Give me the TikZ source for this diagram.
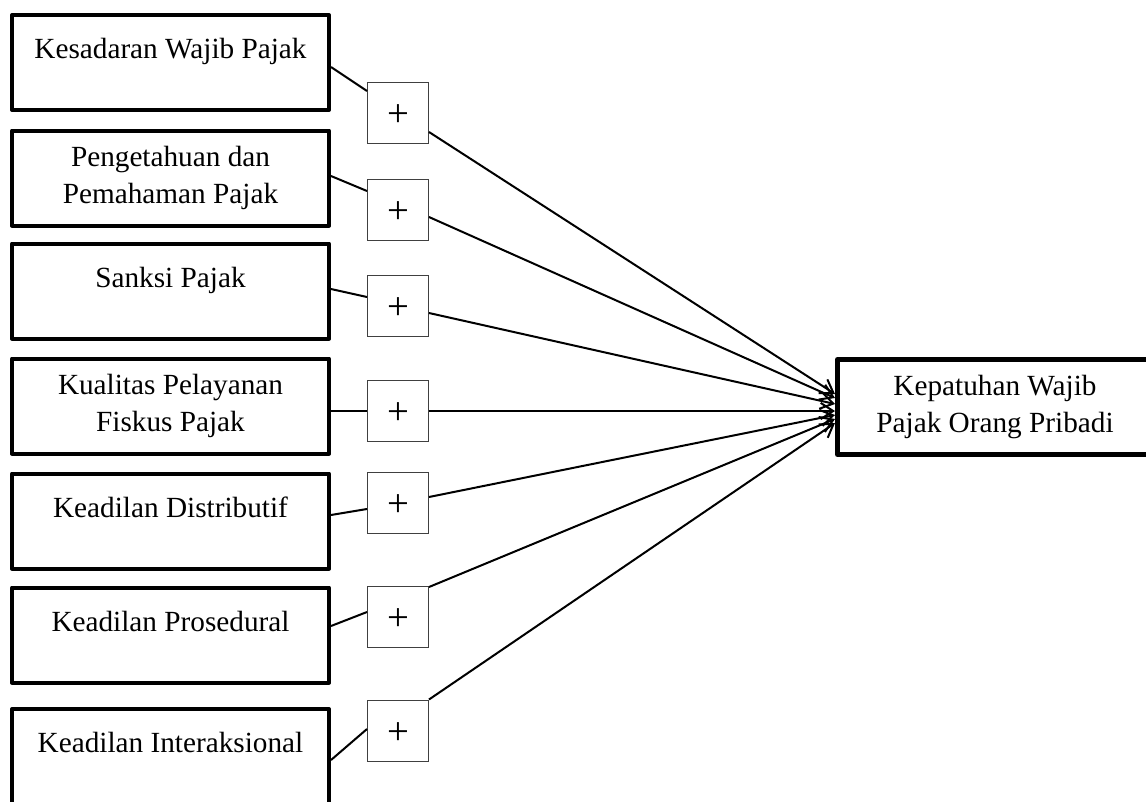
\documentclass[tikz,border=0pt]{standalone}
\usepackage{fontspec}
\setmainfont{Liberation Serif}
\usetikzlibrary{arrows.meta,calc}

\begin{document}
\begin{tikzpicture}[
  x=0.4pt, y=-0.4pt,
  font=\fontsize{11.7}{15}\selectfont,
  var/.style={draw, line width=1.6pt, line join=round, align=center,
    minimum width=126.8pt, minimum height=38pt, inner sep=0pt},
  dep/.style={var, line width=2pt, minimum width=126pt},
  signbox/.style={draw=black!75, line width=0.4pt, fill=white,
    minimum size=24.4pt, inner sep=0pt, font=\fontsize{15.5}{18}\selectfont,
    text height=10.8pt, text depth=0pt},
  link/.style={line width=0.8pt},
  arr/.style={link, -{Straight Barb[length=5pt, width=6.5pt]}}
]
\useasboundingbox (0,0) rectangle (1146,801);
\clip (0,0) rectangle (1146,801);

% independent variables
\node[var] (kesadaran) at (170.5,62.5) {Kesadaran Wajib Pajak\\[-4pt]\mbox{}};
\node[var] (pengetahuan) at (170.5,178) {Pengetahuan dan\\Pemahaman Pajak};
\node[var] (sanksi) at (170.5,291) {Sanksi Pajak\\[-4pt]\mbox{}};
\node[var] (kualitas) at (170.5,406) {Kualitas Pelayanan\\Fiskus Pajak};
\node[var] (distributif) at (170.5,521) {Keadilan Distributif\\[-4pt]\mbox{}};
\node[var] (prosedural) at (170.5,635) {Keadilan Prosedural\\[-4pt]\mbox{}};
\node[var] (interaksional) at (170.5,756.5) {Keadilan Interaksional\\[-4pt]\mbox{}};

% dependent variable
\node[dep] (kepatuhan) at (995,407) {Kepatuhan Wajib\\Pajak Orang Pribadi};

% signs
\node[signbox] (s1) at (398,113) {+};
\node[signbox] (s2) at (398,210) {+};
\node[signbox] (s3) at (398,306) {+};
\node[signbox] (s4) at (398,410.5) {+};
\node[signbox] (s5) at (398,503) {+};
\node[signbox] (s6) at (398,617) {+};
\node[signbox] (s7) at (398,730.5) {+};

\draw[link] ($(kesadaran.east)+(0,4.5)$) -- ($(s1.west)+(0,-22)$);
\draw[link] ($(pengetahuan.east)+(0,-2)$) -- ($(s2.west)+(0,-19)$);
\draw[link] ($(sanksi.east)+(0,-2)$) -- ($(s3.west)+(0,-9)$);
\draw[link] ($(kualitas.east)+(0,5)$) -- ($(s4.west)+(0,0.5)$);
\draw[link] ($(distributif.east)+(0,-6)$) -- ($(s5.west)+(0,6)$);
\draw[link] ($(prosedural.east)+(0,-9)$) -- ($(s6.west)+(0,-5)$);
\draw[link] ($(interaksional.east)+(0,3.5)$) -- ($(s7.west)+(0,-1.5)$);

\draw[arr] ($(s1.east)+(0,19)$) -- ($(kepatuhan.west)+(0,-13)$);
\draw[arr] ($(s2.east)+(0,7)$) -- ($(kepatuhan.west)+(0,-9)$);
\draw[arr] ($(s3.east)+(0,7)$) -- ($(kepatuhan.west)+(0,-3)$);
\draw[arr] ($(s4.east)+(0,0.5)$) -- ($(kepatuhan.west)+(0,4)$);
\draw[arr] ($(s5.east)+(0,-6)$) -- ($(kepatuhan.west)+(0,8)$);
\draw[arr] ($(s6.east)+(0,-30)$) -- ($(kepatuhan.west)+(0,12)$);
\draw[arr] ($(s7.east)+(0,-31)$) -- ($(kepatuhan.west)+(0,16)$);
\end{tikzpicture}
\end{document}
